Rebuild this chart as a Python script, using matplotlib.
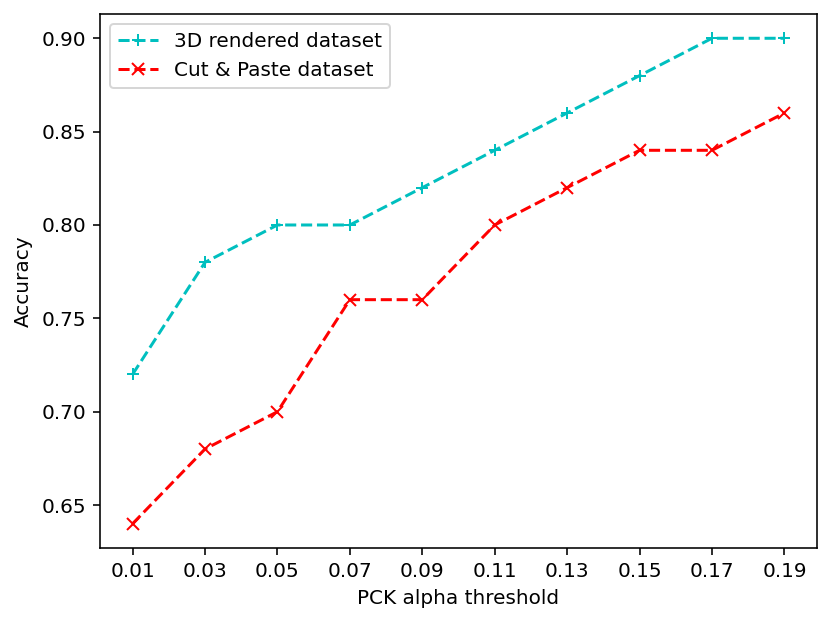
import numpy as np
import matplotlib
matplotlib.use('Agg')
import matplotlib.pyplot as plt

thresholds = ['0.01', '0.03', '0.05', '0.07', '0.09', '0.11', '0.13', '0.15', '0.17', '0.19']
acc_rendered = [0.72, 0.78, 0.80, 0.80, 0.82, 0.84, 0.86, 0.88, 0.90, 0.90]
acc_cutpaste = [0.64, 0.68, 0.70, 0.76, 0.76, 0.80, 0.82, 0.84, 0.84, 0.86]

W, H, DPI = 831, 624, 144
fig = plt.figure(figsize=(W/DPI, H/DPI), dpi=DPI)
ax = fig.add_axes([100/W, 1 - 548/H, (817 - 100)/W, (548 - 14)/H])

x = np.arange(len(thresholds))
ax.plot(x, acc_rendered, 'c+--', label='3D rendered dataset')
ax.plot(x, acc_cutpaste, 'rx--', label='Cut & Paste dataset')
ax.set_xticks(x)
ax.set_xticklabels(thresholds)
ax.set_xlabel('PCK alpha threshold')
ax.set_ylabel('Accuracy')
ax.legend(loc='upper left')

plt.savefig('out.png', dpi=DPI)
